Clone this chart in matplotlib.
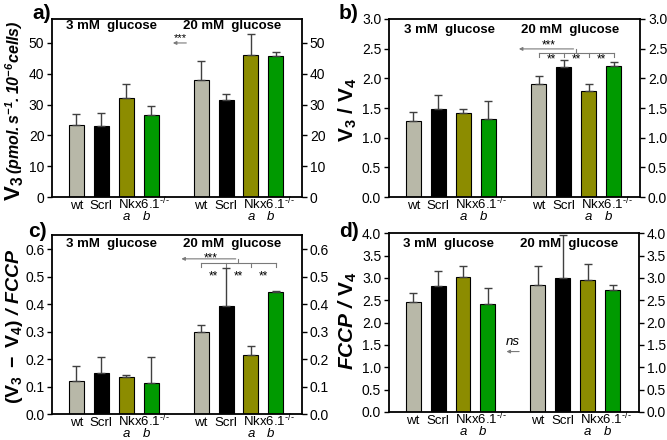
import matplotlib
matplotlib.use('Agg')
import matplotlib.pyplot as plt
import matplotlib.transforms as mtransforms
import numpy as np

plt.rcParams['font.family'] = ['Liberation Sans', 'DejaVu Sans']
plt.rcParams['mathtext.fontset'] = 'custom'
plt.rcParams['mathtext.rm'] = 'Liberation Sans'
plt.rcParams['mathtext.it'] = 'Liberation Sans:italic'
plt.rcParams['mathtext.bf'] = 'Liberation Sans:bold'
plt.rcParams['mathtext.bfit'] = 'Liberation Sans:italic:bold'

# data (3 mM: wt, Scrl, Nkx a, Nkx b | 20 mM: wt, Scrl, Nkx a, Nkx b)
pos = [0, 1, 2, 3, 5, 6, 7, 8]
colors = ['#b8b8a8', '#000000', '#8c8c00', '#009a00'] * 2
xlabels = ['wt', 'Scrl', r'Nkx6.1$^{\text{-/-}}$', 'wt', 'Scrl', r'Nkx6.1$^{\text{-/-}}$']
xlabel_pos = [0, 1, 1.68, 5, 6, 6.68]
xlabel_ha = ['center', 'center', 'left'] * 2
sub_labels = ['a', 'b', 'a', 'b']
sub_pos = [2, 2.8, 7, 7.8]

v3 = [23.3, 23.1, 32.3, 26.5, 38.0, 31.6, 46.0, 45.7]
v3_err = [3.6, 4.3, 4.4, 3.2, 6.2, 1.8, 6.8, 1.5]
rcr = [1.28, 1.48, 1.41, 1.31, 1.90, 2.19, 1.79, 2.21]
rcr_err = [0.16, 0.24, 0.07, 0.30, 0.14, 0.11, 0.11, 0.07]
coupl = [0.121, 0.149, 0.134, 0.112, 0.297, 0.395, 0.215, 0.445]
coupl_err = [0.055, 0.060, 0.007, 0.097, 0.027, 0.135, 0.032, 0.003]
fccp = [2.46, 2.81, 3.01, 2.42, 2.83, 2.99, 2.95, 2.72]
fccp_err = [0.21, 0.35, 0.26, 0.35, 0.43, 0.97, 0.37, 0.13]

fig = plt.figure(figsize=(6.67, 4.4), dpi=100)
axa = fig.add_axes([0.078, 0.552, 0.375, 0.405])
axb = fig.add_axes([0.583, 0.552, 0.377, 0.405])
axc = fig.add_axes([0.078, 0.059, 0.375, 0.407])
axd = fig.add_axes([0.583, 0.064, 0.375, 0.406])


def panel(ax, vals, errs, ylim, yticks, fmt, letter, let_x, let_y, glab_y):
    yerr = np.vstack([np.zeros(len(errs)), errs])
    ax.bar(pos, vals, width=0.6, color=colors, edgecolor='black', linewidth=0.8,
           yerr=yerr, error_kw=dict(ecolor='#404040', elinewidth=1, capsize=3, capthick=1),
           zorder=2)
    ax.set_xlim(-0.97, 9.05)
    ax.set_ylim(*ylim)
    ax.set_yticks(yticks)
    ax.set_yticklabels([fmt.format(t) for t in yticks])
    ax.set_xticks([])
    ax.tick_params(axis='y', direction='out', length=3.5, width=1, labelsize=10,
                   right=True, labelright=True, pad=2)
    for s in ax.spines.values():
        s.set_linewidth(1.3)
    trans = mtransforms.blended_transform_factory(ax.transData, ax.transAxes)
    for x, t, ha in zip(xlabel_pos, xlabels, xlabel_ha):
        ax.text(x, -0.068, t, transform=trans, ha=ha, va='baseline', fontsize=9.5)
    for x, t in zip(sub_pos, sub_labels):
        ax.text(x, -0.128, t, transform=trans, ha='center', va='baseline',
                fontsize=9.5, style='italic')
    ax.text(1.43, glab_y, '3 mM  glucose', transform=trans, ha='center', va='center',
            fontsize=9.5, fontweight='bold')
    ax.text(6.25, glab_y, '20 mM  glucose', transform=trans, ha='center', va='center',
            fontsize=9.5, fontweight='bold')
    ax.text(let_x, let_y, letter, transform=ax.transAxes, ha='right', va='center',
            fontsize=15, fontweight='bold')


panel(axa, v3, v3_err, (0, 57.8), [0, 10, 20, 30, 40, 50], '{:g}', 'a)', -0.005, 1.03, 0.958)
panel(axb, rcr, rcr_err, (0, 3.0), np.arange(0, 3.01, 0.5), '{:.1f}', 'b)', -0.12, 1.03, 0.94)
panel(axc, coupl, coupl_err, (0, 0.652), np.arange(0, 0.61, 0.1), '{:.1f}', 'c)', -0.02, 1.017, 0.948)
panel(axd, fccp, fccp_err, (0, 4.0), np.arange(0, 4.01, 0.5), '{:.1f}', 'd)', -0.12, 1.01, 0.94)

# y labels
axb.text(-0.163, 0.49, r'$\mathbf{V_3\ /\ V_4}$', transform=axb.transAxes, rotation=90,
         ha='center', va='center', fontsize=15)
axc.text(-0.15, 0.49, r'$\mathbf{(V_3\ -\ V_4)}\ \mathbfit{/\ FCCP}$', transform=axc.transAxes,
         rotation=90, ha='center', va='center', fontsize=14)
axd.text(-0.165, 0.508, r'$\mathbfit{FCCP\ /}\ \mathbf{V_4}$', transform=axd.transAxes,
         rotation=90, ha='center', va='center', fontsize=15)
ta = axa.text(-0.128, -0.02, r'$\mathbf{V_3}$', transform=axa.transAxes, rotation=90,
              rotation_mode='anchor', ha='left', va='baseline', fontsize=16)
fig.canvas.draw()
bb = ta.get_window_extent()
ytop = axa.transAxes.inverted().transform((0, bb.y1))[1]
axa.text(-0.128, ytop + 0.01, r'$\mathbfit{(pmol.s^{-1}.10^{-6}cells)}$', transform=axa.transAxes,
         rotation=90, rotation_mode='anchor', ha='left', va='baseline', fontsize=11.5)

gray = '#7a7a7a'
arrow = dict(arrowstyle='-|>', color=gray, lw=0.8, mutation_scale=5)

# panel a
axa.annotate('', xy=(3.76, 50.0), xytext=(4.52, 50.0), arrowprops=arrow)
axa.text(4.18, 50.1, '***', ha='center', va='bottom', fontsize=8)

# panels b and c: brackets
for ax, yb, ytick, yarr, ystar, ydd in [(axb, 2.42, 2.36, 2.495, 2.50, 2.31),
                                        (axc, 0.550, 0.536, 0.565, 0.556, 0.50)]:
    ax.plot([5, 8], [yb, yb], color=gray, lw=0.8)
    for x in [5, 6, 7, 8]:
        ax.plot([x, x], [yb, ytick], color=gray, lw=0.8)
    ax.plot([6.5, 6.5], [yb, yarr], color=gray, lw=0.8)
    ax.annotate('', xy=(4.1, yarr), xytext=(6.5, yarr), arrowprops=arrow)
    ax.text(5.4, ystar, '***', ha='center', va='baseline', fontsize=8.5)
    for x in [5.5, 6.5, 7.5]:
        ax.text(x, ydd, '**', ha='center', va='center', fontsize=8.5)

# panel d
axd.annotate('', xy=(3.63, 1.35), xytext=(4.36, 1.35), arrowprops=arrow)
axd.text(4.0, 1.57, 'ns', ha='center', va='center', fontsize=9.5, style='italic')

fig.savefig('out.png', dpi=100)
